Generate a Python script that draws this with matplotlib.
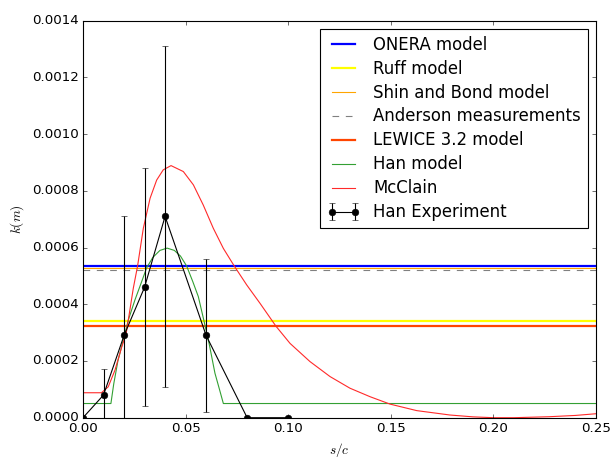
import matplotlib
matplotlib.use("Agg")
import matplotlib.pyplot as plt
from matplotlib.ticker import FormatStrFormatter

plt.style.use("classic")

# ── roughness height models (constant k over s/c) ───────────────────────────
X_RANGE = [0.0, 0.25]
K_ONERA    = 0.000535
K_RUFF     = 0.000340
K_SHIN     = 0.000528
K_ANDERSON = 0.000522
K_LEWICE   = 0.000323

# ── Han model, k(s/c) ───────────────────────────────────────────────────────
HAN_X = [0.0, 0.0136, 0.0150, 0.0170, 0.0195, 0.0221, 0.0253, 0.0286, 0.0310,
         0.0340, 0.0375, 0.0410, 0.0445, 0.0475, 0.0505, 0.0535, 0.0562,
         0.0590, 0.0615, 0.0643, 0.0665, 0.0684, 0.25]
HAN_K = [0.00005, 0.00005, 0.00012, 0.00020, 0.00027, 0.000345, 0.000415,
         0.00048, 0.000528, 0.000565, 0.00059, 0.000598, 0.00059, 0.00057,
         0.000535, 0.00048, 0.000427, 0.00034, 0.00026, 0.000157, 0.0001,
         0.00005, 0.00005]

# ── McClain distribution ────────────────────────────────────────────────────
MCC_X = [0.0, 0.005, 0.009, 0.0123, 0.0156, 0.0189, 0.021, 0.0245, 0.0266,
         0.0294, 0.0327, 0.0359, 0.0391, 0.0429, 0.0489, 0.0538, 0.0586,
         0.0635, 0.0684, 0.0737, 0.0798, 0.0863, 0.094, 0.1009, 0.1106,
         0.1204, 0.1301, 0.1399, 0.1496, 0.1626, 0.1788, 0.19, 0.20, 0.21,
         0.2273, 0.24, 0.25]
MCC_K = [0.000088, 0.000088, 0.000088, 0.000109, 0.000168, 0.00025, 0.000295,
         0.000456, 0.000535, 0.000668, 0.000774, 0.000838, 0.000874, 0.000889,
         0.000868, 0.000821, 0.00075, 0.000668, 0.000597, 0.000535, 0.000468,
         0.000403, 0.000323, 0.000262, 0.000198, 0.000145, 0.000104, 0.000074,
         0.000048, 0.000025, 0.0000095, 0.000003, 0.0, 0.0, 0.0000035,
         0.000008, 0.000014]

# ── Han experiment ──────────────────────────────────────────────────────────
EXP_X   = [0.0, 0.01, 0.02, 0.03, 0.04, 0.06, 0.08, 0.10]
EXP_K   = [0.0, 0.00008, 0.00029, 0.00046, 0.00071, 0.00029, 0.0, 0.0]
EXP_ERR = [0.0, 0.00009, 0.00042, 0.00042, 0.0006, 0.00027, 0.0, 0.0]

fig = plt.figure(figsize=(610 / 80, 459 / 80), dpi=80)
ax = fig.add_axes([83 / 610, 1 - 417.7 / 459, 513 / 610, 397 / 459])

ax.plot(X_RANGE, [K_ONERA] * 2, color="blue", lw=2, label="ONERA model")
ax.plot(X_RANGE, [K_RUFF] * 2, color="yellow", lw=2, label="Ruff model")
ax.plot(X_RANGE, [K_SHIN] * 2, color="orange", lw=1, label="Shin and Bond model")
ax.plot(X_RANGE, [K_ANDERSON] * 2, color="gray", lw=1, ls="--",
        label="Anderson measurements")
ax.plot(X_RANGE, [K_LEWICE] * 2, color="orangered", lw=2, label="LEWICE 3.2 model")
ax.plot(HAN_X, HAN_K, color="#33a033", lw=1, label="Han model")
ax.plot(MCC_X, MCC_K, color="#ff2a2a", lw=1, label="McClain")
ax.errorbar(EXP_X, EXP_K, yerr=EXP_ERR, color="black", marker="o", ms=6,
            lw=1, capsize=3, label="Han Experiment")

ax.set_xlim(0, 0.25)
ax.set_ylim(0, 0.0014)
ax.set_xticks([0.0, 0.05, 0.10, 0.15, 0.20, 0.25])
ax.set_yticks([i * 0.0002 for i in range(8)])
ax.xaxis.set_major_formatter(FormatStrFormatter("%.2f"))
ax.yaxis.set_major_formatter(FormatStrFormatter("%.4f"))
ax.set_xlabel("$s/c$")
ax.set_ylabel("$k(m)$")
ax.legend(loc="upper right", fontsize=14.9, labelspacing=0.36)

fig.savefig("out.png", dpi=80, facecolor="white")
